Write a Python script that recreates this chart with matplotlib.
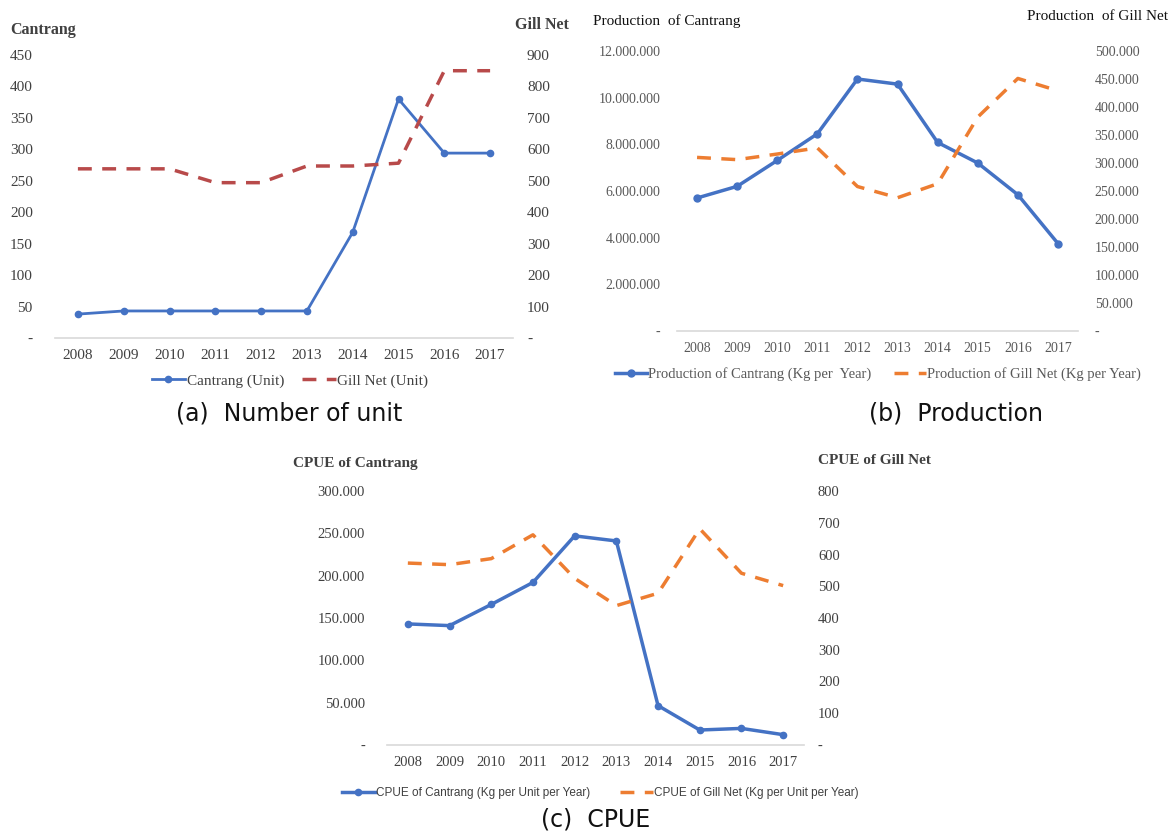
import matplotlib
matplotlib.use("Agg")
import matplotlib.pyplot as plt
from matplotlib.ticker import FuncFormatter

years = [2008, 2009, 2010, 2011, 2012, 2013, 2014, 2015, 2016, 2017]

# (a) number of units
unit_cantrang = [38, 43, 43, 43, 43, 43, 168, 380, 294, 294]
unit_gillnet = [538, 538, 538, 494, 494, 547, 547, 556, 850, 850]

# (b) production, kg per year
prod_cantrang = [5700000, 6200000, 7310000, 8450000, 10800000, 10580000,
                 8080000, 7200000, 5840000, 3750000]
prod_gillnet = [310000, 306000, 316000, 327000, 258000, 238000, 263000,
                382000, 451000, 429000]

# (c) CPUE, kg per unit per year
cpue_cantrang = [143000, 141000, 166000, 192000, 247000, 241000, 46500,
                 17700, 19600, 12200]
cpue_gillnet = [573, 568, 587, 662, 525, 439, 478, 681, 541, 502]

W, H = 1173, 834
BLUE = "#4472C4"
ORANGE = "#ED7D31"
RED = "#B84A4A"
GREY = "#595959"
SERIF = "Liberation Serif"


def dotfmt(v, pos):
    if abs(v) < 1e-9:
        return "-"
    return f"{v:,.0f}".replace(",", ".")


def box(x0, x1, ytop, ybot):
    return [x0 / W, 1 - ybot / H, (x1 - x0) / W, (ybot - ytop) / H]


def setup(ax, ax2, ylim1, ylim2, step1, step2, fs, lpad, rpad, xpad,
          color=GREY, fs2=None):
    ax.set_xlim(2007.5, 2017.5)
    ax.set_ylim(*ylim1)
    ax2.set_ylim(*ylim2)
    ax.set_xticks(years)
    ax.set_yticks(range(0, int(ylim1[1]) + 1, step1))
    ax2.set_yticks(range(0, int(ylim2[1]) + 1, step2))
    for a in (ax, ax2):
        for s in a.spines.values():
            s.set_visible(False)
        a.patch.set_visible(False)
        a.tick_params(length=0, labelsize=fs, labelcolor=color)
        a.yaxis.set_major_formatter(FuncFormatter(dotfmt))
    if fs2:
        ax2.tick_params(labelsize=fs2)
    for a in (ax, ax2):
        for lab in a.get_xticklabels() + a.get_yticklabels():
            lab.set_fontfamily(SERIF)
    ax.spines["bottom"].set_visible(True)
    ax.spines["bottom"].set_color("#D9D9D9")
    ax.spines["bottom"].set_linewidth(1.2)
    ax.tick_params(axis="y", pad=lpad)
    ax.tick_params(axis="x", pad=xpad)
    ax2.tick_params(axis="y", pad=rpad)


fig = plt.figure(figsize=(W / 100, H / 100), dpi=100)

# ---- (a) ----
axa = fig.add_axes(box(55, 513, 55, 338))
axa2 = axa.twinx()
setup(axa, axa2, (0, 450), (0, 900), 50, 100, 11, 16, 10, 8, color="#404040")
axa.plot(years, unit_cantrang, color=BLUE, lw=2, marker="o", ms=4.5,
         label="Cantrang (Unit)")
axa2.plot(years, unit_gillnet, color=RED, lw=2.5, ls=(0, (4, 3)),
          label="Gill Net (Unit)")
fig.text(10 / W, 1 - 30 / H, "Cantrang", fontfamily=SERIF, fontsize=11.5,
         fontweight="bold", color="#404040", va="center")
fig.text(515 / W, 1 - 25 / H, "Gill Net", fontfamily=SERIF, fontsize=11.5,
         fontweight="bold", color="#404040", va="center")
h1, l1 = axa.get_legend_handles_labels()
h2, l2 = axa2.get_legend_handles_labels()
fig.legend(h1 + h2, l1 + l2, loc="center", bbox_to_anchor=(290 / W, 1 - 381 / H),
           ncol=2, frameon=False, prop={"family": SERIF, "size": 11},
           labelcolor="#404040", handlelength=2.2, handletextpad=0.1,
           columnspacing=1.2)
fig.text(289 / W, 1 - 414 / H, "(a)  Number of unit", fontsize=17,
         ha="center", va="center", color="#111111")

# ---- (b) ----
axb = fig.add_axes(box(677, 1078, 51, 331))
axb2 = axb.twinx()
setup(axb, axb2, (0, 12000000), (0, 500000), 2000000, 50000, 10, 12, 12, 8)
axb.plot(years, prod_cantrang, color=BLUE, lw=2.5, marker="o", ms=5,
         label="Production of Cantrang (Kg per  Year)")
axb2.plot(years, prod_gillnet, color=ORANGE, lw=2.5, ls=(0, (4, 3)),
          label="Production of Gill Net (Kg per Year)")
fig.text(593 / W, 1 - 21 / H, "Production  of Cantrang", fontfamily=SERIF,
         fontsize=11, color="#111111", va="center")
fig.text(1168 / W, 1 - 16 / H, "Production  of Gill Net", fontfamily=SERIF,
         fontsize=11, color="#111111", va="center", ha="right")
h1, l1 = axb.get_legend_handles_labels()
h2, l2 = axb2.get_legend_handles_labels()
fig.legend(h1 + h2, l1 + l2, loc="center", bbox_to_anchor=(878 / W, 1 - 374 / H),
           ncol=2, frameon=False, prop={"family": SERIF, "size": 10.5},
           labelcolor=GREY, handlelength=2.2, handletextpad=0.1, columnspacing=1.5)
fig.text(956 / W, 1 - 413 / H, "(b)  Production", fontsize=17,
         ha="center", va="center", color="#111111")

# ---- (c) ----
axc = fig.add_axes(box(387, 804, 491, 745))
axc2 = axc.twinx()
setup(axc, axc2, (0, 300000), (0, 800), 50000, 100, 10.5, 16, 10, 8,
      color="#404040")
axc.plot(years, cpue_cantrang, color=BLUE, lw=2.5, marker="o", ms=4.5,
         label="CPUE of Cantrang (Kg per Unit per Year)")
axc2.plot(years, cpue_gillnet, color=ORANGE, lw=2.5, ls=(0, (4, 3)),
          label="CPUE of Gill Net (Kg per Unit per Year)")
fig.text(293 / W, 1 - 464 / H, "CPUE of Cantrang", fontfamily=SERIF,
         fontsize=11, fontweight="bold", color="#404040", va="center")
fig.text(818 / W, 1 - 460 / H, "CPUE of Gill Net", fontfamily=SERIF,
         fontsize=11, fontweight="bold", color="#404040", va="center")
h1, l1 = axc.get_legend_handles_labels()
h2, l2 = axc2.get_legend_handles_labels()
fig.legend(h1 + h2, l1 + l2, loc="center", bbox_to_anchor=(600 / W, 1 - 793 / H),
           ncol=2, frameon=False, prop={"family": "Liberation Sans", "size": 8.5},
           labelcolor="#404040", handlelength=2.8, handletextpad=0.1, columnspacing=2.5)
fig.text(596 / W, 1 - 820 / H, "(c)  CPUE", fontsize=17,
         ha="center", va="center", color="#111111")

fig.savefig("out.png", dpi=100)
